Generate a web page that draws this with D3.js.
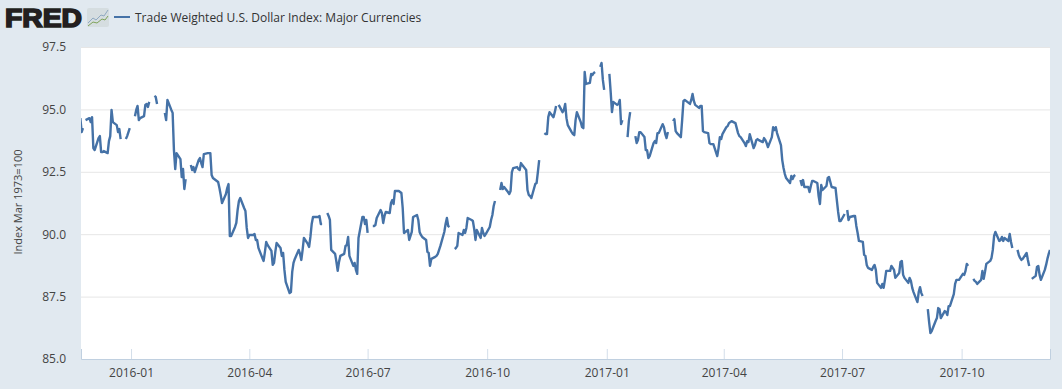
<!DOCTYPE html>
<html>
<head>
<meta charset="utf-8">
<script src="https://cdnjs.cloudflare.com/ajax/libs/d3/7.8.5/d3.min.js"></script>
<style>
  html, body { margin: 0; padding: 0; background: #e1e9f0; }
  svg { display: block; }
  text { font-family: "Open Sans", sans-serif; }
</style>
</head>
<body>
<svg id="chart"></svg>
<script>
const seriesName = "Trade Weighted U.S. Dollar Index: Major Currencies";
const yLabel = "Index Mar 1973=100";
const yTicks = [85, 87.5, 90, 92.5, 95, 97.5];
const xTicks = ["2016-01", "2016-04", "2016-07", "2016-10", "2017-01", "2017-04", "2017-07", "2017-10"];
const firstDay = "2015-11-23";
const lastDay = "2017-12-08";

// one row per week, Monday to Friday, null = no rate published
const values = [
  94.65,94.09,94.25,null,94.57,
  94.65,94.49,94.69,93.45,93.37,
  93.85,93.93,93.29,93.29,93.33,
  93.25,93.73,93.93,94.98,94.49,
  94.37,94.09,94.21,93.81,null,
  93.81,93.93,94.09,94.25,null,
  94.73,94.98,95.14,94.57,94.65,
  94.73,95.18,95.22,95.10,95.30,
  null,95.54,95.50,95.22,null,
  null,null,94.86,94.57,95.38,
  94.98,94.86,93.37,92.61,93.25,
  93.01,92.29,92.61,91.81,92.21,
  null,92.77,92.57,92.69,92.49,
  92.97,93.05,92.85,92.69,93.21,
  93.25,93.25,93.25,92.37,92.25,
  92.13,92.09,91.85,91.57,91.25,
  91.61,91.85,92.01,89.93,89.93,
  90.29,90.45,90.97,91.33,91.45,
  91.05,90.93,90.25,89.85,89.97,
  89.97,90.01,89.77,89.77,89.45,
  89.05,88.93,89.29,89.69,89.57,
  89.33,88.77,88.85,89.29,89.65,
  89.45,89.13,89.25,88.57,88.09,
  87.64,87.68,88.49,88.85,89.01,
  89.37,89.21,88.97,89.37,89.85,
  89.61,89.49,89.89,90.41,90.69,
  90.69,90.69,90.73,90.41,90.41,
  null,90.85,90.73,90.57,89.37,
  89.21,88.89,88.53,88.89,89.13,
  89.21,89.53,89.57,89.89,89.13,
  88.73,88.85,88.57,88.41,89.85,
  90.69,90.69,90.41,90.57,90.05,
  null,90.33,90.33,90.37,90.65,
  90.97,90.85,90.45,90.73,90.89,
  90.85,91.25,91.37,91.21,91.73,
  91.73,91.69,91.65,91.05,90.05,
  90.17,89.77,89.93,90.09,90.69,
  90.77,90.57,90.09,89.97,89.89,
  89.77,89.29,89.25,88.73,89.01,
  89.09,89.13,89.21,89.37,89.53,
  90.09,90.41,90.65,90.33,90.29,
  null,89.41,89.45,89.53,90.05,
  89.97,90.17,90.05,90.25,90.65,
  90.57,90.53,90.21,89.77,90.17,
  89.85,90.25,90.05,89.93,90.01,
  90.29,90.57,90.77,91.13,91.33,
  null,91.77,92.05,91.81,91.89,
  91.69,91.61,91.73,92.49,92.65,
  92.69,92.61,92.57,92.85,92.77,
  92.57,91.77,91.57,91.53,91.45,
  92.01,92.05,92.49,92.97,null,
  94.05,94.01,94.01,94.69,94.89,
  94.69,94.89,95.14,null,95.18,
  94.89,94.98,95.22,94.65,94.37,
  94.09,94.01,93.97,94.57,94.89,
  94.49,94.29,94.25,96.50,96.02,
  96.06,96.42,96.38,96.46,96.50,
  null,96.70,96.86,96.18,95.78,
  null,96.42,95.70,94.89,95.30,
  95.18,95.22,95.38,94.41,94.57,
  null,93.89,94.53,94.89,null,
  93.93,93.65,93.77,94.09,94.09,
  93.89,93.37,93.37,93.05,93.13,
  93.65,93.73,93.65,94.05,94.05,
  94.41,94.29,94.01,93.85,94.09,
  null,94.53,94.61,94.13,94.05,
  93.89,94.57,95.34,95.38,95.34,
  95.22,95.38,95.62,95.34,95.18,
  95.06,95.14,95.14,94.13,94.09,
  94.05,93.65,93.61,93.61,93.61,
  93.13,93.45,93.89,93.81,94.01,
  94.29,94.33,94.45,94.49,94.53,
  94.45,94.25,94.05,93.93,93.89,
  93.65,93.53,93.73,93.69,94.01,
  93.45,93.57,93.77,93.81,93.77,
  93.69,93.85,93.77,93.65,93.49,
  93.89,94.29,94.17,94.29,94.05,
  93.57,92.97,92.65,92.41,92.25,
  92.05,92.33,92.21,92.33,92.37,
  null,92.17,91.97,92.17,91.89,
  91.89,91.69,91.93,92.13,92.13,
  92.05,91.53,91.21,91.97,91.77,
  91.93,92.25,92.29,92.09,91.89,
  91.85,91.37,90.89,90.53,90.53,
  90.81,null,90.97,90.57,90.69,
  90.73,90.73,90.33,90.05,89.73,
  89.69,89.17,89.13,88.77,88.65,
  88.57,88.69,88.77,88.57,88.05,
  87.85,88.01,87.85,88.17,88.53,
  88.53,88.73,88.65,88.57,88.25,
  88.45,88.89,88.93,88.37,88.25,
  88.05,88.25,88.13,87.85,87.68,
  87.28,87.68,87.88,87.64,87.52,
  null,87.00,86.48,86.04,86.12,
  86.52,86.64,87.04,87.00,86.64,
  86.92,86.88,86.76,87.12,87.12,
  87.60,88.01,88.17,88.17,88.17,
  88.41,88.37,88.53,88.81,88.73,
  null,88.21,88.13,88.09,88.01,
  88.17,88.53,88.21,88.49,88.81,
  88.93,89.05,89.37,89.93,90.09,
  89.73,89.77,89.89,89.73,89.85,
  89.73,90.01,89.69,89.45,null,
  89.37,89.17,89.05,88.97,89.01,
  89.25,88.97,88.73,null,88.21,
  88.33,88.69,88.73,88.37,88.17,
  88.57,88.77,89.01,89.21,89.37
];

const width = 1062, height = 389;
const margin = { top: 47, right: 12, bottom: 30, left: 81 };
const innerWidth = width - margin.left - margin.right;
const innerHeight = height - margin.top - margin.bottom;

const parseDay = d3.utcParse("%Y-%m-%d");
const parseMonth = d3.utcParse("%Y-%m");

// business days only, same order as the values rows
const days = d3.utcDay.range(parseDay(firstDay), d3.utcDay.offset(parseDay(lastDay), 1))
  .filter(d => d.getUTCDay() !== 0 && d.getUTCDay() !== 6);
const data = days.map((d, i) => ({ date: d, value: values[i] }));

const svg = d3.select("#chart").attr("width", width).attr("height", height);

const x = d3.scaleUtc()
  .domain([d3.utcHour.offset(parseDay(firstDay), 12), parseDay(lastDay)])
  .range([0, innerWidth]);

const y = d3.scaleLinear()
  .domain([85, 97.5])
  .range([innerHeight, 0]);

const plot = svg.append("g")
  .attr("transform", `translate(${margin.left},${margin.top})`);

plot.append("rect")
  .attr("width", innerWidth)
  .attr("height", innerHeight)
  .attr("fill", "#fff");

plot.append("clipPath").attr("id", "plot-clip")
  .append("rect")
  .attr("width", innerWidth)
  .attr("height", innerHeight);

// y axis: grid lines and labels
const yAxis = plot.append("g")
  .call(d3.axisLeft(y).tickValues(yTicks).tickSize(-innerWidth).tickPadding(15).tickFormat(d3.format(".1f")));
yAxis.select(".domain").remove();
yAxis.selectAll("line").attr("stroke", "#e6e6e6");
yAxis.selectAll("text").attr("fill", "#444").style("font-size", "12px");

// x axis: ticks point up into the plot
const xAxis = plot.append("g")
  .attr("transform", `translate(0,${innerHeight})`)
  .call(d3.axisBottom(x)
    .tickValues(xTicks.map(parseMonth))
    .tickSize(-10)
    .tickPadding(9)
    .tickFormat(d3.utcFormat("%Y-%m")));
xAxis.select(".domain").attr("stroke", "#c0d0e0");
xAxis.selectAll("line").attr("stroke", "#d3deea");
xAxis.selectAll("text").attr("fill", "#444").style("font-size", "12px");

const line = d3.line()
  .defined(d => d.value !== null)
  .x(d => x(d.date))
  .y(d => y(d.value));

plot.append("path")
  .datum(data)
  .attr("clip-path", "url(#plot-clip)")
  .attr("fill", "none")
  .attr("stroke", "#4572a7")
  .attr("stroke-width", 2.4)
  .attr("stroke-linejoin", "round")
  .attr("d", line);

svg.append("text")
  .attr("transform", `translate(22,${margin.top + innerHeight / 2 - 1}) rotate(-90)`)
  .attr("text-anchor", "middle")
  .attr("fill", "#444")
  .style("font-size", "11px")
  .text(yLabel);

// header: FRED wordmark, small chart icon, legend
const wordmark = svg.append("text")
  .attr("x", 5)
  .attr("y", 27)
  .attr("textLength", 77)
  .attr("lengthAdjust", "spacingAndGlyphs")
  .attr("fill", "#231f20")
  .attr("stroke", "#231f20")
  .attr("stroke-width", 1.6)
  .style("font-family", "'Liberation Sans', sans-serif")
  .style("font-weight", "bold")
  .style("font-size", "25px")
  .text("FRED");

const icon = svg.append("g").attr("transform", "translate(87,8)");
icon.append("rect")
  .attr("width", 22).attr("height", 19).attr("rx", 2)
  .attr("fill", "#d5dde0");
const iconLine = d3.line();
icon.append("path")
  .attr("d", iconLine([[1, 15], [6, 10], [9, 12], [14, 7], [17, 8], [21, 2]]))
  .attr("fill", "none").attr("stroke", "#8fa9c2").attr("stroke-width", 1);
icon.append("path")
  .attr("d", iconLine([[1, 18], [6, 14], [10, 15], [15, 11], [18, 12], [21, 8]]))
  .attr("fill", "none").attr("stroke", "#7fa35a").attr("stroke-width", 1);

svg.append("line")
  .attr("x1", 114).attr("x2", 130)
  .attr("y1", 17).attr("y2", 17)
  .attr("stroke", "#4572a7")
  .attr("stroke-width", 2);

svg.append("text")
  .attr("x", 135)
  .attr("y", 22)
  .attr("fill", "#333")
  .style("font-size", "12px")
  .text(seriesName);
</script>
</body>
</html>
